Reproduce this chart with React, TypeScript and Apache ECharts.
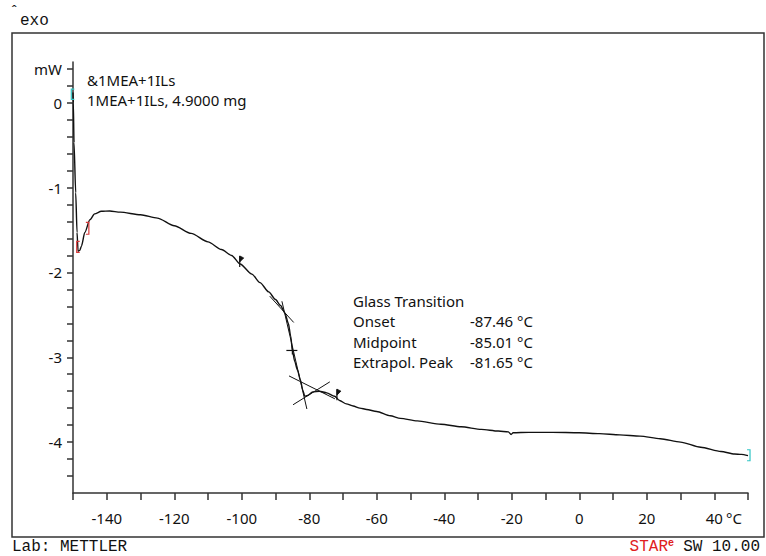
import React, { useEffect, useRef } from "react";
import * as echarts from "echarts";

// ---- data ----
const curveT = [
  -150.0, -149.9, -149.7, -149.2, -148.8, -148.5, -148.0, -147.5, -146.5, -145.0, -143.6, -141.6, -139.1,
  -136.0, -130.0, -125.0, -120.0, -115.0, -110.0, -106.0, -103.0, -100.5, -97.0, -94.6, -92.0, -90.0,
  -88.5, -87.2, -86.2, -85.5, -85.0, -84.3, -83.5, -82.6, -81.9, -81.3, -80.5, -79.0, -77.0, -74.8,
  -72.5, -71.0, -69.0, -67.0, -65.0, -63.0, -60.0, -56.0, -53.0, -48.0, -41.0, -35.0, -29.0, -24.0,
  -21.0, -20.2, -19.6, -15.0, -8.0, 0.0, 6.0, 12.0, 18.0, 24.0, 30.0, 36.0, 42.0, 46.0, 48.0, 50.0,
];
const curveV = [
  0.12, 0.0, -0.47, -1.06, -1.53, -1.75, -1.74, -1.69, -1.53, -1.38, -1.31, -1.28, -1.276,
  -1.29, -1.32, -1.36, -1.45, -1.54, -1.64, -1.73, -1.8, -1.9, -2.02, -2.12, -2.23, -2.32,
  -2.39, -2.48, -2.6, -2.75, -2.92, -3.05, -3.15, -3.27, -3.39, -3.46, -3.45, -3.41, -3.4, -3.42,
  -3.46, -3.51, -3.55, -3.575, -3.6, -3.615, -3.64, -3.69, -3.72, -3.75, -3.79, -3.82, -3.85, -3.87,
  -3.88, -3.91, -3.89, -3.885, -3.885, -3.89, -3.9, -3.915, -3.93, -3.96, -4.0, -4.06, -4.11, -4.14, -4.145, -4.16,
];

// tangent construction lines [T1, V1, T2, V2]
const tangentSegments = [
  [-91.7, -2.28, -84.6, -2.59],
  [-88.1, -2.34, -80.7, -3.61],
  [-86.0, -3.22, -72.4, -3.49],
  [-84.8, -3.56, -73.9, -3.29],
];
// evaluation limit flags [T, V]
const limitFlags = [
  [-100.6, -1.9],
  [-71.8, -3.47],
];
// midpoint marker [T, V]
const midpointMarks = [[-85.0, -2.92]];
// integration brackets [T, Vtop, Vbottom, direction(-1 "[" / 1 "]")]
const brackets = [
  [-150.5, 0.16, 0.04, -1],
  [-148.9, -1.635, -1.765, -1],
  [-145.3, -1.41, -1.55, 1],
  [50.6, -4.09, -4.22, 1],
];
const bracketColors = ["#33c6c6", "#d83a3a", "#d83a3a", "#33c6c6"];

const xTickValues = [-150, -140, -130, -120, -110, -100, -90, -80, -70, -60, -50, -40, -30, -20, -10, 0, 10, 20, 30, 40, 50];
const xLabelValues = [-140, -120, -100, -80, -60, -40, -20, 0, 20, 40];
const yTickValues = [-4.4, -4.2, -4.0, -3.8, -3.6, -3.4, -3.2, -3.0, -2.8, -2.6, -2.4, -2.2, -2.0, -1.8, -1.6, -1.4, -1.2, -1.0, -0.8, -0.6, -0.4, -0.2, 0.0, 0.2, 0.4];
const yLabelValues = [0.4, 0, -1, -2, -3, -4];

const sampleLines = ["&1MEA+1ILs", "1MEA+1ILs, 4.9000 mg"];
const gtLabels = ["Glass Transition", "Onset", "Midpoint", "Extrapol. Peak"];
const gtValues = ["", "-87.46 °C", "-85.01 °C", "-81.65 °C"];

const SANS = "Noto Sans";
const MONO = "Liberation Mono";
const INK = "#111";

export default function App() {
  const ref = useRef<HTMLDivElement>(null);
  useEffect(() => {
    if (!ref.current) return;
    const chart = echarts.init(ref.current, undefined, { renderer: "svg" });

    const graphics: any[] = [
      {
        type: "rect",
        shape: { x: 12, y: 33, width: 752, height: 504 },
        style: { fill: "none", stroke: "#333", lineWidth: 1.5 },
        silent: true,
      },
      { type: "text", x: 10, y: 5, style: { text: "ˆ", font: `14px ${MONO}`, fill: INK } },
      { type: "text", x: 20, y: 13, style: { text: "exo", font: `16px ${MONO}`, fill: INK } },
      { type: "text", x: 12, y: 539, style: { text: "Lab: METTLER", font: `16px ${MONO}`, fill: INK } },
      { type: "text", x: 760, y: 539, style: { text: "SW 10.00", font: `16px ${MONO}`, fill: INK, align: "right" } },
      { type: "text", x: 668, y: 539, style: { text: "STAR", font: `16px ${MONO}`, fill: "#e02020", align: "right" } },
      { type: "text", x: 668, y: 538, style: { text: "e", font: `bold 10px ${MONO}`, fill: "#e02020" } },
      { type: "text", x: 726, y: 510, style: { text: "°C", font: `15px ${SANS}`, fill: INK } },
    ];
    sampleLines.forEach((t, i) => {
      graphics.push({ type: "text", x: 87, y: 72 + i * 20, style: { text: t, font: `15px ${SANS}`, fill: INK } });
    });
    gtLabels.forEach((t, i) => {
      graphics.push({ type: "text", x: 353, y: 293 + i * 20.5, style: { text: t, font: `15px ${SANS}`, fill: INK } });
      if (gtValues[i]) {
        graphics.push({ type: "text", x: 470, y: 293 + i * 20.5, style: { text: gtValues[i], font: `15px ${SANS}`, fill: INK } });
      }
    });

    const axisLineStyle = { color: "#333", width: 1.5 };

    chart.setOption({
      animation: false,
      grid: { left: 73, right: 18, top: 62, bottom: 63 },
      xAxis: {
        type: "value",
        min: -150,
        max: 50,
        axisLine: { show: true, onZero: false, lineStyle: axisLineStyle },
        axisTick: { show: true, customValues: xTickValues, length: 7, lineStyle: axisLineStyle },
        axisLabel: {
          customValues: xLabelValues,
          fontFamily: SANS,
          fontSize: 15,
          color: INK,
          margin: 17,
          formatter: (v: number) => String(v),
        },
        splitLine: { show: false },
      },
      yAxis: {
        type: "value",
        min: -4.6,
        max: 0.48,
        axisLine: { show: true, onZero: false, lineStyle: axisLineStyle },
        axisTick: { show: true, customValues: yTickValues, length: 6, lineStyle: axisLineStyle },
        axisLabel: {
          customValues: yLabelValues,
          fontFamily: SANS,
          fontSize: 15,
          color: INK,
          margin: 11,
          formatter: (v: number) => (Math.abs(v - 0.4) < 1e-6 ? "mW" : String(Math.round(v))),
        },
        splitLine: { show: false },
      },
      graphic: graphics,
      series: [
        {
          type: "line",
          data: curveT.map((t, i) => [t, curveV[i]]),
          showSymbol: false,
          symbol: "none",
          smooth: 0.25,
          smoothMonotone: "x",
          lineStyle: { color: INK, width: 1.4 },
          z: 3,
        },
        {
          type: "custom",
          data: tangentSegments,
          encode: { x: [0, 2], y: [1, 3] },
          renderItem: (_p: any, api: any) => {
            const a = api.coord([api.value(0), api.value(1)]);
            const b = api.coord([api.value(2), api.value(3)]);
            return {
              type: "line",
              shape: { x1: a[0], y1: a[1], x2: b[0], y2: b[1] },
              style: { stroke: INK, lineWidth: 1 },
            };
          },
          z: 2,
        },
        {
          type: "custom",
          data: limitFlags,
          encode: { x: 0, y: 1 },
          renderItem: (_p: any, api: any) => {
            const p = api.coord([api.value(0), api.value(1)]);
            return {
              type: "group",
              children: [
                {
                  type: "polygon",
                  shape: { points: [[p[0], p[1] - 8], [p[0] + 4, p[1] - 6], [p[0], p[1] - 2]] },
                  style: { fill: INK, stroke: INK, lineWidth: 0.8 },
                },
                {
                  type: "line",
                  shape: { x1: p[0], y1: p[1] - 8, x2: p[0], y2: p[1] + 3 },
                  style: { stroke: INK, lineWidth: 1.2 },
                },
              ],
            };
          },
          z: 4,
        },
        {
          type: "custom",
          data: midpointMarks,
          encode: { x: 0, y: 1 },
          renderItem: (_p: any, api: any) => {
            const p = api.coord([api.value(0), api.value(1)]);
            return {
              type: "group",
              children: [
                { type: "line", shape: { x1: p[0] - 6, y1: p[1], x2: p[0] + 5, y2: p[1] }, style: { stroke: INK, lineWidth: 1.2 } },
                { type: "line", shape: { x1: p[0], y1: p[1] - 4, x2: p[0], y2: p[1] + 4 }, style: { stroke: INK, lineWidth: 1.2 } },
              ],
            };
          },
          z: 4,
        },
        {
          type: "custom",
          data: brackets,
          encode: { x: 0, y: [1, 2] },
          clip: false,
          renderItem: (p: any, api: any) => {
            const top = api.coord([api.value(0), api.value(1)]);
            const bot = api.coord([api.value(0), api.value(2)]);
            const d = api.value(3);
            const x0 = top[0];
            return {
              type: "polyline",
              shape: {
                points: [
                  [x0 - d * 3, top[1]],
                  [x0, top[1]],
                  [x0, bot[1]],
                  [x0 - d * 3, bot[1]],
                ],
              },
              style: { stroke: bracketColors[p.dataIndex], lineWidth: 1.2, fill: "none" },
            };
          },
          z: 5,
        },
      ],
    });
    return () => chart.dispose();
  }, []);
  return <div ref={ref} style={{ position: "fixed", left: 0, top: 0, width: 766, height: 556, background: "#fff" }} />;
}
